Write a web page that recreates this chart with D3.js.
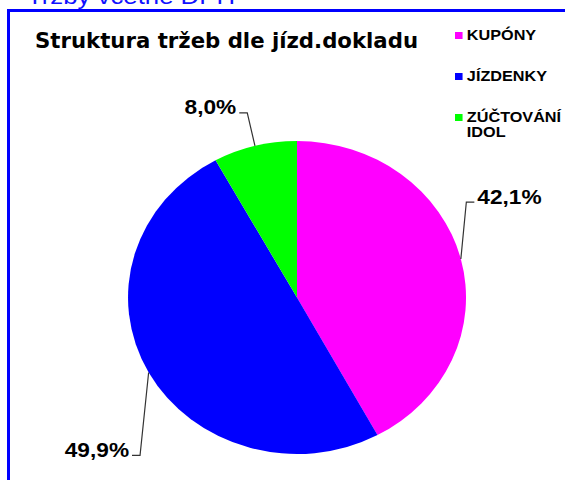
<!DOCTYPE html>
<html>
<head>
<meta charset="utf-8">
<script src="https://cdn.jsdelivr.net/npm/d3@7"></script>
<style>
  html, body { margin: 0; padding: 0; background: #fff; overflow: hidden; }
</style>
</head>
<body>
<svg id="chart"></svg>
<script>
// data
const categories = ['KUPÓNY', 'JÍZDENKY', 'ZÚČTOVÁNÍ IDOL']
const legendLines = [['KUPÓNY'], ['JÍZDENKY'], ['ZÚČTOVÁNÍ', 'IDOL']]
const shares = [42.1, 49.9, 8.0]
const labels = ['42,1%', '49,9%', '8,0%']
const colors = ['#ff00ff', '#0000ff', '#00ff00']

const w = 565
const h = 480
const svg = d3.select('#chart')
    .attr('width', w)
    .attr('height', h)

// the original picture is stretched a bit horizontally
const sx = 1.08
const cx = 297
const cy = 297.5
const r = 156.5

// header line cut off at the top
svg.append('text')
    .attr('x', 27)
    .attr('y', 4)
    .attr('textLength', 208)
    .attr('lengthAdjust', 'spacingAndGlyphs')
    .style('font-family', 'Liberation Sans, Arial, sans-serif')
    .style('font-size', '22px')
    .style('fill', '#1010ff')
    .text('Tržby včetně DPH')

// blue frame
svg.append('rect')
    .attr('x', 8.5)
    .attr('y', 10.5)
    .attr('width', 700)
    .attr('height', 600)
    .attr('fill', 'none')
    .attr('stroke', '#0000ff')
    .attr('stroke-width', 3)

svg.append('text')
    .attr('x', 35)
    .attr('y', 48)
    .attr('textLength', 383)
    .attr('lengthAdjust', 'spacingAndGlyphs')
    .style('font-family', 'DejaVu Sans, sans-serif')
    .style('font-weight', 'bold')
    .style('font-size', '21px')
    .style('fill', '#000')
    .text('Struktura  tržeb dle jízd.dokladu')

const pie = d3.pie().sort(null).value(d => d)
const arcs = pie(shares)
const arc = d3.arc().innerRadius(0).outerRadius(r)

svg.append('g')
    .attr('transform', `translate(${cx},${cy}) scale(${sx},1)`)
    .selectAll('path')
    .data(arcs)
    .enter()
    .append('path')
    .attr('d', arc)
    .attr('fill', (d, i) => colors[i])

// leader lines: elbow offsets from the slice edge, tick direction
const elbows = [[5.5, -57], [-8.6, 83], [-7.7, -33]]
const tickDir = [1, -1, -1]

arcs.forEach((d, i) => {
    const a = (d.startAngle + d.endAngle) / 2
    const ex = cx + sx * r * Math.sin(a)
    const ey = cy - r * Math.cos(a)
    const bx = ex + elbows[i][0]
    const by = ey + elbows[i][1]
    const tx = bx + tickDir[i] * 8
    svg.append('path')
        .attr('d', `M${ex},${ey}L${bx},${by}L${tx},${by}`)
        .attr('fill', 'none')
        .attr('stroke', '#333')
        .attr('stroke-width', 1.2)
    svg.append('g')
        .attr('transform', `translate(${tx + tickDir[i] * 3},${by + 1.5}) scale(${sx},1)`)
        .append('text')
        .attr('text-anchor', tickDir[i] > 0 ? 'start' : 'end')
        .style('font-family', 'Liberation Sans, Arial, sans-serif')
        .style('font-weight', 'bold')
        .style('font-size', '21px')
        .style('fill', '#000')
        .text(labels[i])
})

// legend
const legend = svg.append('g')
    .attr('transform', `translate(455,0) scale(${sx},1)`)
const baselines = [40, 81, 122]
legendLines.forEach((lines, i) => {
    legend.append('rect')
        .attr('x', 0)
        .attr('y', baselines[i] - 8)
        .attr('width', 7)
        .attr('height', 7)
        .attr('fill', colors[i])
    lines.forEach((t, j) => {
        legend.append('text')
            .attr('x', 11)
            .attr('y', baselines[i] + j * 15)
            .style('font-family', 'Liberation Sans, Arial, sans-serif')
            .style('font-weight', 'bold')
            .style('font-size', '15px')
            .style('fill', '#000')
            .text(t)
    })
})
</script>
</body>
</html>
